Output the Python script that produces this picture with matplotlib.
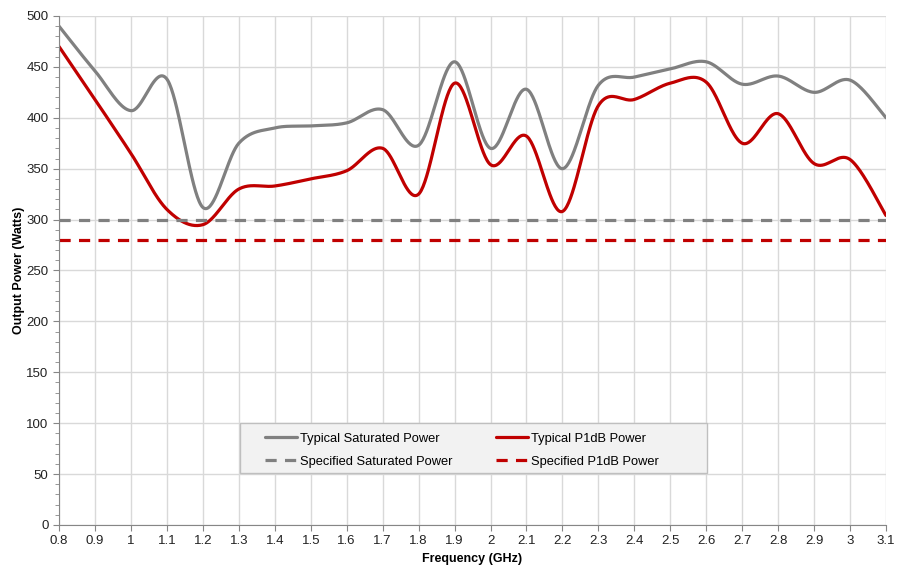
import numpy as np
import matplotlib
matplotlib.use("Agg")
import matplotlib.pyplot as plt
from matplotlib.ticker import MultipleLocator
from matplotlib.patches import Rectangle

plt.rcParams['font.family'] = ['Liberation Sans', 'DejaVu Sans']

freq = [0.8, 0.9, 1.0, 1.1, 1.2, 1.3, 1.4, 1.5, 1.6, 1.7, 1.8, 1.9, 2.0,
        2.1, 2.2, 2.3, 2.4, 2.5, 2.6, 2.7, 2.8, 2.9, 3.0, 3.1]
sat_power = [490, 446, 407, 438, 312, 375, 390, 392, 395, 408, 373, 455, 370,
             428, 350, 432, 440, 448, 455, 433, 441, 425, 437, 400]
p1db_power = [470, 418, 365, 310, 295, 330, 333, 340, 348, 370, 325, 434, 354,
              382, 308, 412, 418, 434, 435, 375, 404, 355, 359, 304]
spec_sat = 300
spec_p1db = 280

labels = ["Typical Saturated Power", "Specified Saturated Power",
          "Typical P1dB Power", "Specified P1dB Power"]


def smooth(x, y, n=40):
    """Excel-like smoothed line (Catmull-Rom Bezier)."""
    x = np.asarray(x, float)
    y = np.asarray(y, float)
    P = np.column_stack([x, y])
    out = []
    for i in range(len(P) - 1):
        p0 = P[i - 1] if i > 0 else P[i]
        p1 = P[i]
        p2 = P[i + 1]
        p3 = P[i + 2] if i + 2 < len(P) else P[i + 1]
        c1 = p1 + (p2 - p0) / 6.0
        c2 = p2 - (p3 - p1) / 6.0
        t = np.linspace(0, 1, n, endpoint=(i == len(P) - 2))[:, None]
        b = ((1 - t) ** 3) * p1 + 3 * ((1 - t) ** 2) * t * c1 + 3 * (1 - t) * t ** 2 * c2 + t ** 3 * p2
        out.append(b)
    out = np.vstack(out)
    return out[:, 0], out[:, 1]


fig = plt.figure(figsize=(9.08, 5.65), dpi=100)
ax = fig.add_axes([0.065, 0.0708, 0.9108, 0.9009])

grey = "#808080"
red = "#c00000"

xs, ys = smooth(freq, sat_power)
l1, = ax.plot(xs, ys, color=grey, lw=2.3, solid_capstyle='round')
xr, yr = smooth(freq, p1db_power)
l3, = ax.plot(xr, yr, color=red, lw=2.3, solid_capstyle='round')
l2, = ax.plot([freq[0], freq[-1]], [spec_sat, spec_sat], color=grey, lw=2.3,
              dashes=(3.5, 2.6))
l4, = ax.plot([freq[0], freq[-1]], [spec_p1db, spec_p1db], color=red, lw=2.3,
              dashes=(3.5, 2.6))

ax.set_xlim(0.8, 3.1)
ax.set_ylim(0, 500)
ax.yaxis.set_major_locator(MultipleLocator(50))
ax.yaxis.set_minor_locator(MultipleLocator(10))
ax.set_xticks(freq)
ax.set_xticklabels([("%g" % f) for f in freq])

ax.grid(True, which='major', color='#d9d9d9', lw=1)
ax.set_axisbelow(True)
for s in ['top', 'right']:
    ax.spines[s].set_visible(False)
for s in ['left', 'bottom']:
    ax.spines[s].set_color('#868686')
ax.tick_params(axis='both', which='major', labelsize=9.5, colors='#868686',
               labelcolor='#222222', length=4, direction='out')
ax.tick_params(axis='y', which='minor', length=3, colors='#868686')

ax.set_xlabel("Frequency (GHz)", fontsize=9, fontweight='bold', labelpad=4)
ax.set_ylabel("Output Power (Watts)", fontsize=9, fontweight='bold', labelpad=1)

# legend box (data coordinates)
box = Rectangle((1.303, 51), 2.602 - 1.303, 49, facecolor='#f2f2f2',
                edgecolor='#bfbfbf', lw=1.0, zorder=4)
ax.add_patch(box)

leg = ax.legend([l1, l2, l3, l4], labels, ncol=2, loc='upper left',
                bbox_to_anchor=(0.249, 0.181),
                fontsize=9.3, frameon=False,
                handlelength=2.5, handletextpad=0.25, borderpad=0,
                labelspacing=0.85, columnspacing=3.3, borderaxespad=0)
leg.set_zorder(5)

fig.savefig("out.png", dpi=100)
